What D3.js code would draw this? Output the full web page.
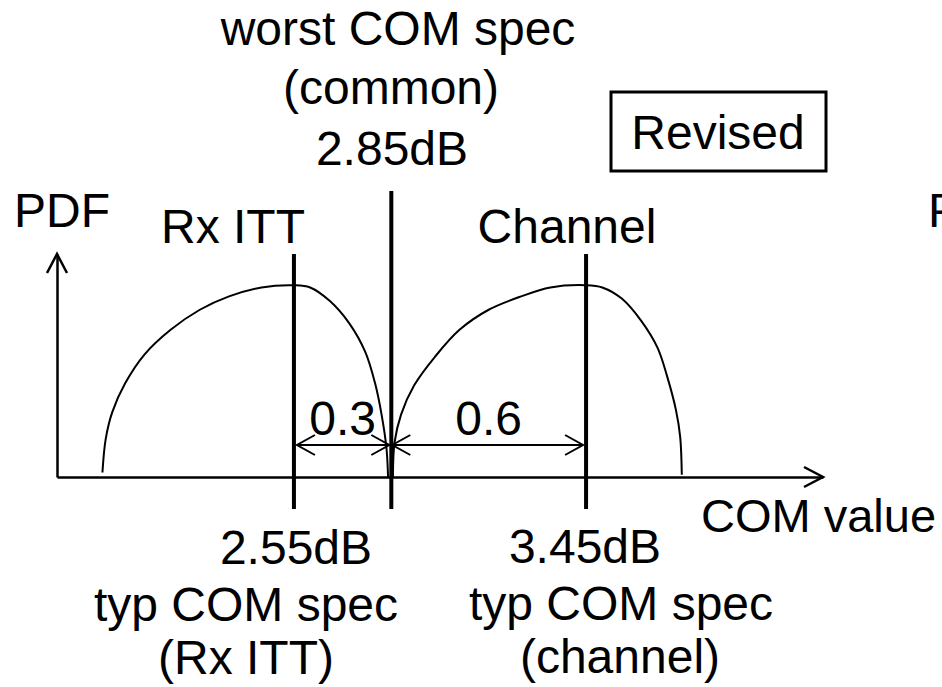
<!DOCTYPE html>
<html>
<head>
<meta charset="utf-8">
<script src="https://d3js.org/d3.v7.min.js"></script>
<style>
	body { margin: 0; background: #fff; }
	svg text { font-family: Arial, "Liberation Sans", sans-serif; font-size: 48px; fill: #000; }
</style>
</head>
<body>
<div id="chart"></div>
<script>

// COM value axis (dB) and PDF axis (arbitrary units)
var comDomain = [1.82, 4.18];
var pdfDomain = [0, 1];

// Rx ITT distribution
var rxCom = [1.96, 1.97, 1.99, 2.03, 2.09, 2.17, 2.26, 2.35, 2.45, 2.55, 2.60, 2.66, 2.72, 2.77, 2.80, 2.82, 2.835, 2.84];
var rxPdf = [0.02, 0.17, 0.29, 0.42, 0.55, 0.66, 0.75, 0.81, 0.85, 0.86, 0.85, 0.79, 0.69, 0.56, 0.42, 0.28, 0.13, 0.0];

// Channel distribution
var chCom = [2.855, 2.86, 2.88, 2.92, 2.985, 3.06, 3.15, 3.25, 3.34, 3.45, 3.50, 3.56, 3.62, 3.67, 3.70, 3.727, 3.74, 3.745];
var chPdf = [0.0, 0.155, 0.28, 0.41, 0.54, 0.66, 0.75, 0.81, 0.85, 0.86, 0.85, 0.80, 0.70, 0.58, 0.45, 0.30, 0.18, 0.01];

// spec lines (dB) and the gaps between them
var specValues = [2.55, 2.85, 3.45];
var gapLabels = ['0.3', '0.6'];

var width = 942, height = 687;

var svg = d3.select('#chart')
	.append('svg')
	.attr('width', width)
	.attr('height', height);

var x = d3.scaleLinear().domain(comDomain).range([57, 823]);
var y = d3.scaleLinear().domain(pdfDomain).range([477, 254]);

// open V arrow head, angle is the direction the tip points to
function arrowHead(g, tx, ty, angle, len, half, sw) {
	var a = angle * Math.PI / 180;
	var bx = tx - len * Math.cos(a), by = ty - len * Math.sin(a);
	var px = -Math.sin(a) * half, py = Math.cos(a) * half;
	g.append('path')
		.attr('d', 'M' + (bx + px) + ',' + (by + py) + 'L' + tx + ',' + ty + 'L' + (bx - px) + ',' + (by - py))
		.attr('fill', 'none')
		.attr('stroke', '#000')
		.attr('stroke-width', sw)
		.attr('stroke-linejoin', 'miter');
}

// Axes
var xAxis = svg.append('g')
	.attr('transform', 'translate(0,' + y(0) + ')')
	.call(d3.axisBottom(x).ticks(0).tickSizeOuter(0));
xAxis.select('.domain').attr('stroke-width', 2.5);

var yAxis = svg.append('g')
	.attr('transform', 'translate(' + x(comDomain[0]) + ',0)')
	.call(d3.axisLeft(y).ticks(0).tickSizeOuter(0));
yAxis.select('.domain').attr('stroke-width', 2.5);

arrowHead(svg, x(comDomain[1]), y(0), 0, 19, 10, 2.5);
arrowHead(svg, x(comDomain[0]), y(pdfDomain[1]), -90, 19, 10, 2.5);

// PDF curves
var line = d3.line()
	.x(function(d) { return x(d[0]); })
	.y(function(d) { return y(d[1]); })
	.curve(d3.curveCatmullRom.alpha(0.5));

var curves = [d3.zip(rxCom, rxPdf), d3.zip(chCom, chPdf)];

svg.selectAll('path.pdf')
	.data(curves)
	.enter()
	.append('path')
	.attr('class', 'pdf')
	.attr('d', line)
	.attr('fill', 'none')
	.attr('stroke', '#000')
	.attr('stroke-width', 2);

// spec lines
svg.selectAll('line.spec')
	.data(specValues)
	.enter()
	.append('line')
	.attr('class', 'spec')
	.attr('x1', function(d) { return x(d); })
	.attr('x2', function(d) { return x(d); })
	.attr('y1', function(d, i) { return i === 1 ? 191 : y(1); })
	.attr('y2', 509)
	.attr('stroke', '#000')
	.attr('stroke-width', 4);

// dimension arrows between the spec lines
var dimY = 445;
var gaps = d3.pairs(specValues);
gaps.forEach(function(p, i) {
	var x0 = x(p[0]) + 3, x1 = x(p[1]) - 2;
	if (i === 1) { x0 = x(p[0]) + 1; x1 = x(p[1]) - 3; }
	svg.append('line')
		.attr('x1', x0).attr('x2', x1)
		.attr('y1', dimY).attr('y2', dimY)
		.attr('stroke', '#000')
		.attr('stroke-width', 2);
	arrowHead(svg, x0, dimY, 180, 18, 10, 2);
	arrowHead(svg, x1, dimY, 0, 18, 10, 2);
	svg.append('text')
		.attr('x', (x(p[0]) + x(p[1])) / 2)
		.attr('y', 435)
		.attr('text-anchor', 'middle')
		.text(gapLabels[i]);
});

// labels
function label(t, lx, ly, anchor) {
	return svg.append('text')
		.attr('x', lx)
		.attr('y', ly)
		.attr('text-anchor', anchor || 'middle')
		.text(t);
}

label('PDF', 14, 227, 'start');
label('PDF', 928, 227, 'start');
label('Rx ITT', 233, 243);
label('Channel', 567, 243);
label('COM value', 701, 532, 'start').style('font-size', '47px');

label('worst COM spec', 398, 45);
label('(common)', 391, 104);
label('2.85dB', 392, 165);

label('2.55dB', 296, 564);
label('typ COM spec', 246, 621);
label('(Rx ITT)', 246, 674);

label('3.45dB', 585, 563);
label('typ COM spec', 621, 620);
label('(channel)', 620, 673);

// "Revised" box
svg.append('rect')
	.attr('x', 611).attr('y', 92)
	.attr('width', 215).attr('height', 79)
	.attr('fill', 'none')
	.attr('stroke', '#000')
	.attr('stroke-width', 3);
label('Revised', 718, 149);

</script>
</body>
</html>
